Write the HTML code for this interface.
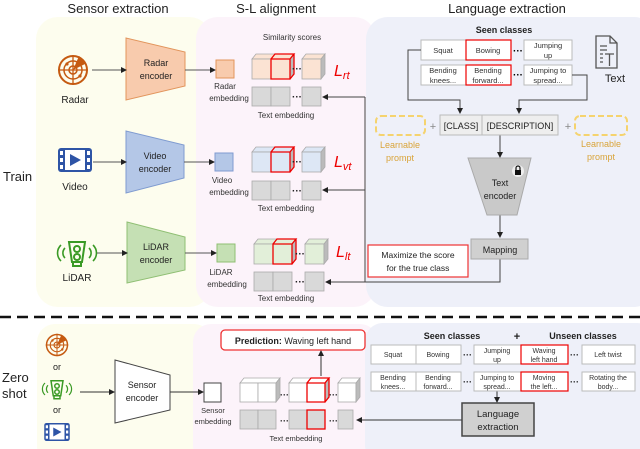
<!DOCTYPE html>
<html><head><meta charset="utf-8"><style>
html,body{margin:0;padding:0;background:#fff}
svg{display:block}
text{font-family:"Liberation Sans",sans-serif}
</style></head><body>
<svg width="640" height="449" viewBox="0 0 640 449" xmlns="http://www.w3.org/2000/svg">
<defs>
<marker id="ar" markerWidth="6" markerHeight="6" refX="5" refY="3" orient="auto" markerUnits="userSpaceOnUse"><path d="M0,0 L6,3 L0,6 z" fill="#222"/></marker>
<g id="radar">
<circle r="14" fill="none" stroke="#c55a11" stroke-width="2"/>
<circle r="9" fill="none" stroke="#c55a11" stroke-width="1.5"/>
<circle r="4" fill="none" stroke="#c55a11" stroke-width="1.5"/>
<path d="M-15,0 H15 M0,-15 V15" stroke="#c55a11" stroke-width="1.3"/>
<path d="M0,0 L6,-14 A14,14 0 0,1 12,-6 z" fill="#c55a11"/>
<circle cx="-6" cy="-6" r="1.6" fill="#c55a11"/><circle cx="7" cy="6" r="1.6" fill="#c55a11"/>
</g>
<g id="video">
<rect x="-17" y="-12" width="34" height="24" rx="3" fill="#2e54a6"/>
<rect x="-10" y="-10" width="20" height="20" fill="#fff"/>
<path d="M-5,-6 L6,0 L-5,6 z" fill="#2e54a6"/>
<rect x="-15" y="-9" width="3" height="4" fill="#fff"/><rect x="-15" y="-2" width="3" height="4" fill="#fff"/><rect x="-15" y="5" width="3" height="4" fill="#fff"/>
<rect x="12" y="-9" width="3" height="4" fill="#fff"/><rect x="12" y="-2" width="3" height="4" fill="#fff"/><rect x="12" y="5" width="3" height="4" fill="#fff"/>
</g>
<g id="lidar" fill="none" stroke="#3a9a25" stroke-width="2">
<path d="M-8,-11 H8 L5,9 H-5 z"/><rect x="-4" y="9" width="8" height="4"/>
<circle cx="0" cy="-4" r="3"/><circle cx="0" cy="4" r="3"/>
<path d="M-12,-5 A7,7 0 0,0 -12,5 M-16,-8 A11,11 0 0,0 -16,8 M12,-5 A7,7 0 0,1 12,5 M16,-8 A11,11 0 0,1 16,8" stroke-width="1.6"/>
</g>
</defs>

<!-- panels top -->
<rect x="36" y="17" width="175" height="290" rx="22" fill="#fdfdee"/>
<rect x="196" y="17" width="180" height="290" rx="22" fill="#fcf3fa"/>
<rect x="366" y="17" width="290" height="290" rx="22" fill="#eef0f9"/>
<text x="118" y="13" font-size="13" text-anchor="middle" fill="#222">Sensor extraction</text>
<text x="276" y="13" font-size="13" text-anchor="middle" fill="#222">S-L alignment</text>
<text x="507" y="13" font-size="13" text-anchor="middle" fill="#222">Language extraction</text>
<text x="3" y="181" font-size="13" fill="#222">Train</text>

<!-- icons -->
<use href="#radar" x="73" y="70"/>
<text x="75" y="103" font-size="10" text-anchor="middle" fill="#222">Radar</text>
<use href="#video" x="75" y="160"/>
<text x="75" y="190" font-size="10" text-anchor="middle" fill="#222">Video</text>
<use href="#lidar" x="77" y="253"/>
<text x="77" y="281" font-size="10" text-anchor="middle" fill="#222">LiDAR</text>

<!-- encoders -->
<g font-size="9" text-anchor="middle" fill="#222">
<path d="M126,38 L185,52 L185,86 L126,100 z" fill="#f8cbad" stroke="#e2955c"/>
<text x="156" y="66">Radar</text><text x="156" y="79">encoder</text>
<path d="M126,131 L184,145 L184,178 L126,193 z" fill="#b4c7e7" stroke="#7f9bd0"/>
<text x="155" y="159">Video</text><text x="155" y="172">encoder</text>
<path d="M127,222 L185,237 L185,270 L127,283 z" fill="#c5e0b4" stroke="#8fbf73"/>
<text x="156" y="250">LiDAR</text><text x="156" y="263">encoder</text>
</g>
<g stroke="#555" stroke-width="1" marker-end="url(#ar)">
<line x1="92" y1="70" x2="126" y2="70"/>
<line x1="93" y1="162" x2="126" y2="162"/>
<line x1="97" y1="253" x2="127" y2="253"/>
<line x1="185" y1="70" x2="215" y2="70"/>
<line x1="184" y1="162" x2="214" y2="162"/>
<line x1="185" y1="253" x2="216" y2="253"/>
</g>
<!-- embeddings -->
<rect x="216" y="60" width="18" height="18" fill="#f8cbad" stroke="#e2955c"/>
<rect x="215" y="153" width="18" height="18" fill="#b4c7e7" stroke="#7f9bd0"/>
<rect x="217" y="244" width="18" height="18" fill="#c5e0b4" stroke="#8fbf73"/>
<g font-size="8" text-anchor="middle" fill="#333">
<text x="225" y="89">Radar</text><text x="229" y="101">embedding</text>
<text x="222" y="183">Video</text><text x="229" y="195">embedding</text>
<text x="221" y="275">LiDAR</text><text x="227" y="287">embedding</text>
<text x="292" y="40">Similarity scores</text>
<text x="286" y="118">Text embedding</text>
<text x="286" y="211">Text embedding</text>
<text x="286" y="301">Text embedding</text>
</g>

<!-- cube rows -->
<g stroke="#aaa" stroke-width="0.8">
 <!-- radar cubes -->
 <g fill="#fbe3d3">
 <path d="M252,59 l4,-5 h38 l-4,5 z"/><rect x="252" y="59" width="19" height="20"/><rect x="271" y="59" width="19" height="20"/><path d="M290,59 l4,-5 v20 l-4,5 z" fill="#bbb"/>
 <path d="M302,59 l4,-5 h19 l-4,5 z"/><rect x="302" y="59" width="19" height="20"/><path d="M321,59 l4,-5 v20 l-4,5 z" fill="#bbb"/>
 </g>
 <g fill="#dde7f5">
 <path d="M252,152 l4,-5 h38 l-4,5 z"/><rect x="252" y="152" width="19" height="20"/><rect x="271" y="152" width="19" height="20"/><path d="M290,152 l4,-5 v20 l-4,5 z" fill="#bbb"/>
 <path d="M302,152 l4,-5 h19 l-4,5 z"/><rect x="302" y="152" width="19" height="20"/><path d="M321,152 l4,-5 v20 l-4,5 z" fill="#bbb"/>
 </g>
 <g fill="#e2efd9">
 <path d="M254,244 l4,-5 h38 l-4,5 z"/><rect x="254" y="244" width="19" height="20"/><rect x="273" y="244" width="19" height="20"/><path d="M292,244 l4,-5 v20 l-4,5 z" fill="#bbb"/>
 <path d="M305,244 l4,-5 h19 l-4,5 z"/><rect x="305" y="244" width="19" height="20"/><path d="M324,244 l4,-5 v20 l-4,5 z" fill="#bbb"/>
 </g>
 <g fill="#d9d9d9">
 <rect x="252" y="87" width="19" height="19"/><rect x="271" y="87" width="19" height="19"/><rect x="302" y="87" width="19" height="19"/>
 <rect x="252" y="181" width="19" height="19"/><rect x="271" y="181" width="19" height="19"/><rect x="302" y="181" width="19" height="19"/>
 <rect x="254" y="272" width="19" height="19"/><rect x="273" y="272" width="19" height="19"/><rect x="305" y="272" width="19" height="19"/>
 </g>
</g>
<g fill="none" stroke="#e00" stroke-width="1.3">
<path d="M271,59 h19 v20 h-19 z M271,59 l4,-5 h19 l-4,5 M290,79 l4,-5 v-20"/>
<path d="M271,152 h19 v20 h-19 z M271,152 l4,-5 h19 l-4,5 M290,172 l4,-5 v-20"/>
<path d="M273,244 h19 v20 h-19 z M273,244 l4,-5 h19 l-4,5 M292,264 l4,-5 v-20"/>
</g>
<g font-size="10" font-weight="bold" fill="#222">
<text x="292" y="72">···</text><text x="292" y="100">···</text>
<text x="292" y="165">···</text><text x="292" y="194">···</text>
<text x="295" y="257">···</text><text x="295" y="285">···</text>
</g>
<g font-family="Liberation Serif" font-style="italic" fill="#e00" font-size="16">
<text x="334" y="76">L<tspan font-size="11" dy="3">rt</tspan></text>
<text x="334" y="167">L<tspan font-size="11" dy="3">vt</tspan></text>
<text x="336" y="257">L<tspan font-size="11" dy="3">lt</tspan></text>
</g>

<!-- language extraction top -->
<text x="504" y="33" font-size="9" font-weight="bold" text-anchor="middle" fill="#222">Seen classes</text>
<g fill="#fff" stroke="#bbb">
<rect x="421" y="40" width="45" height="20"/><rect x="466" y="40" width="45" height="20"/><rect x="524" y="40" width="48" height="20"/>
<rect x="421" y="65" width="45" height="20"/><rect x="466" y="65" width="45" height="20"/><rect x="524" y="65" width="48" height="20"/>
</g>
<rect x="466" y="40" width="45" height="20" fill="none" stroke="#e00" stroke-width="1.2"/>
<rect x="466" y="65" width="45" height="20" fill="none" stroke="#e00" stroke-width="1.2"/>
<g font-size="7.5" text-anchor="middle" fill="#333">
<text x="443" y="53">Squat</text><text x="488" y="53">Bowing</text><text x="548" y="48">Jumping</text><text x="548" y="58">up</text>
<text x="443" y="73">Bending</text><text x="443" y="83">knees...</text><text x="488" y="73">Bending</text><text x="488" y="83">forward...</text>
<text x="548" y="73">Jumping to</text><text x="548" y="83">spread...</text>
</g>
<text x="513" y="54" font-size="10" font-weight="bold">···</text>
<text x="513" y="78" font-size="10" font-weight="bold">···</text>
<!-- text icon -->
<g fill="none" stroke="#555" stroke-width="1.3">
<path d="M596,36 h14 l7,7 v25 h-21 z M610,36 v7 h7"/>
<path d="M600,46 h7 M600,50 h7 M600,54 h3 M600,58 h3 M600,62 h3 M605,54 h9 M609.5,54 v12"/>
</g>
<text x="615" y="82" font-size="11" text-anchor="middle" fill="#222">Text</text>
<g stroke="#444" fill="none" stroke-width="1">
<path d="M421,50 H408 V100 H460 V113" marker-end="url(#ar)"/>
<path d="M572,75 H587 V100 H519 V113" marker-end="url(#ar)"/>
<path d="M500,135 V157" marker-end="url(#ar)"/>
<path d="M500,215 V237" marker-end="url(#ar)"/>
<path d="M500,259 V282 H365 V97"/>
<path d="M365,97 H323" marker-end="url(#ar)"/>
<path d="M365,190 H323" marker-end="url(#ar)"/>
<path d="M365,282 H326" marker-end="url(#ar)"/>
</g>
<rect x="440" y="115" width="118" height="20" fill="#eee" stroke="#bbb"/>
<line x1="482" y1="115" x2="482" y2="135" stroke="#bbb"/>
<text x="461" y="129" font-size="9" text-anchor="middle" fill="#222">[CLASS]</text>
<text x="520" y="129" font-size="9" text-anchor="middle" fill="#222">[DESCRIPTION]</text>
<text x="433" y="130" font-size="11" text-anchor="middle" fill="#888">+</text>
<text x="568" y="130" font-size="11" text-anchor="middle" fill="#888">+</text>
<rect x="376" y="116" width="49" height="19" rx="5" fill="#eef0f9" stroke="#f5d36e" stroke-width="2" stroke-dasharray="6,3"/>
<rect x="575" y="116" width="52" height="19" rx="5" fill="#eef0f9" stroke="#f5d36e" stroke-width="2" stroke-dasharray="6,3"/>
<g font-size="9" text-anchor="middle" fill="#d9a43a">
<text x="400" y="148">Learnable</text><text x="400" y="161">prompt</text>
<text x="601" y="147">Learnable</text><text x="601" y="160">prompt</text>
</g>
<path d="M468,158 L531,158 L517,215 L487,215 z" fill="#c9c9c9" stroke="#aaa"/>
<circle cx="518" cy="171" r="6" fill="#eee"/>
<rect x="515" y="170" width="6" height="5" fill="#111"/><path d="M516,170 v-2 a2,2 0 0,1 4,0 v2" stroke="#111" fill="none" stroke-width="1.2"/>
<text x="500" y="186" font-size="9" text-anchor="middle" fill="#222">Text</text>
<text x="500" y="199" font-size="9" text-anchor="middle" fill="#222">encoder</text>
<rect x="471" y="239" width="57" height="20" fill="#d0d0d0" stroke="#aaa"/>
<text x="500" y="253" font-size="9" text-anchor="middle" fill="#222">Mapping</text>
<rect x="368" y="245" width="100" height="32" fill="#fff" stroke="#e33" stroke-width="1.2"/>
<text x="418" y="258" font-size="8.5" text-anchor="middle" fill="#222">Maximize the score</text>
<text x="418" y="271" font-size="8.5" text-anchor="middle" fill="#222">for the true class</text>

<!-- dashed divider -->
<line x1="0" y1="317" x2="640" y2="317" stroke="#111" stroke-width="2.5" stroke-dasharray="11,6"/>

<!-- bottom panels -->
<rect x="37" y="324" width="175" height="140" rx="18" fill="#fdfdee"/>
<rect x="193" y="324" width="185" height="140" rx="18" fill="#fcf3fa"/>
<rect x="365" y="323" width="290" height="140" rx="18" fill="#eef0f9"/>
<text x="2" y="382" font-size="13" fill="#222">Zero</text>
<text x="2" y="398" font-size="13" fill="#222">shot</text>
<use href="#radar" x="57" y="345" transform="translate(57,345) scale(0.75) translate(-57,-345)"/>
<text x="57" y="370" font-size="9" text-anchor="middle" fill="#222">or</text>
<use href="#lidar" x="57" y="389" transform="translate(57,389) scale(0.75) translate(-57,-389)"/>
<text x="57" y="413" font-size="9" text-anchor="middle" fill="#222">or</text>
<use href="#video" x="57" y="432" transform="translate(57,432) scale(0.75) translate(-57,-432)"/>
<path d="M115,360 L170,375 L170,410 L115,423 z" fill="#fff" stroke="#444"/>
<text x="142" y="388" font-size="9" text-anchor="middle" fill="#222">Sensor</text>
<text x="142" y="401" font-size="9" text-anchor="middle" fill="#222">encoder</text>
<g stroke="#333" marker-end="url(#ar)">
<line x1="80" y1="392" x2="114" y2="392"/>
<line x1="170" y1="392" x2="203" y2="392"/>
<line x1="321" y1="376" x2="321" y2="351"/>
<line x1="462" y1="420" x2="357" y2="420"/>
<line x1="497" y1="391" x2="497" y2="402"/>
</g>
<rect x="204" y="383" width="17" height="19" fill="#fff" stroke="#444"/>
<text x="213" y="413" font-size="7.5" text-anchor="middle" fill="#333">Sensor</text>
<text x="213" y="424" font-size="7.5" text-anchor="middle" fill="#333">embedding</text>
<g stroke="#aaa" stroke-width="0.8">
<g fill="#fff">
<path d="M240,383 l4,-5 h36 l-4,5 z"/><rect x="240" y="383" width="18" height="19"/><rect x="258" y="383" width="18" height="19"/><path d="M276,383 l4,-5 v19 l-4,5 z" fill="#bbb"/>
<path d="M289,383 l4,-5 h36 l-4,5 z"/><rect x="289" y="383" width="18" height="19"/><rect x="307" y="383" width="18" height="19"/><path d="M325,383 l4,-5 v19 l-4,5 z" fill="#bbb"/>
<path d="M338,383 l4,-5 h18 l-4,5 z"/><rect x="338" y="383" width="18" height="19"/><path d="M356,383 l4,-5 v19 l-4,5 z" fill="#bbb"/>
</g>
<g fill="#d9d9d9">
<rect x="240" y="410" width="18" height="19"/><rect x="258" y="410" width="18" height="19"/>
<rect x="289" y="410" width="18" height="19"/><rect x="307" y="410" width="18" height="19"/>
<rect x="338" y="410" width="15" height="19"/>
</g>
</g>
<path d="M307,383 h18 v19 h-18 z M307,383 l4,-5 h18 l-4,5 M325,402 l4,-5 v-19" fill="none" stroke="#e00" stroke-width="1.3"/>
<rect x="307" y="410" width="18" height="19" fill="none" stroke="#e00" stroke-width="1.3"/>
<g font-size="9" font-weight="bold" fill="#222">
<text x="280" y="398">···</text><text x="329" y="398">···</text>
<text x="280" y="424">···</text><text x="329" y="424">···</text>
</g>
<text x="296" y="441" font-size="7.5" text-anchor="middle" fill="#333">Text embedding</text>
<rect x="221" y="330" width="144" height="20" rx="4" fill="#fff" stroke="#e33" stroke-width="1.3"/>
<text x="293" y="344" font-size="9" text-anchor="middle" fill="#222"><tspan font-weight="bold">Prediction:</tspan> Waving left hand</text>

<text x="452" y="339" font-size="9" font-weight="bold" text-anchor="middle" fill="#222">Seen classes</text>
<text x="517" y="340" font-size="11" font-weight="bold" text-anchor="middle" fill="#222">+</text>
<text x="583" y="339" font-size="9" font-weight="bold" text-anchor="middle" fill="#222">Unseen classes</text>
<g fill="#fff" stroke="#bbb">
<rect x="371" y="345" width="45" height="19"/><rect x="416" y="345" width="45" height="19"/><rect x="474" y="345" width="47" height="19"/><rect x="521" y="345" width="47" height="19"/><rect x="582" y="345" width="53" height="19"/>
<rect x="371" y="372" width="45" height="19"/><rect x="416" y="372" width="45" height="19"/><rect x="474" y="372" width="47" height="19"/><rect x="521" y="372" width="47" height="19"/><rect x="582" y="372" width="53" height="19"/>
</g>
<rect x="521" y="345" width="47" height="19" fill="none" stroke="#e00" stroke-width="1.2"/>
<rect x="521" y="372" width="47" height="19" fill="none" stroke="#e00" stroke-width="1.2"/>
<g font-size="7" text-anchor="middle" fill="#333">
<text x="393" y="357">Squat</text><text x="438" y="357">Bowing</text>
<text x="497" y="353">Jumping</text><text x="497" y="362">up</text>
<text x="544" y="353">Waving</text><text x="544" y="362">left hand</text>
<text x="608" y="357">Left twist</text>
<text x="393" y="380">Bending</text><text x="393" y="389">knees...</text>
<text x="438" y="380">Bending</text><text x="438" y="389">forward...</text>
<text x="497" y="380">Jumping to</text><text x="497" y="389">spread...</text>
<text x="544" y="380">Moving</text><text x="544" y="389">the left...</text>
<text x="608" y="380">Rotating the</text><text x="608" y="389">body...</text>
</g>
<g font-size="9" font-weight="bold" fill="#222">
<text x="463" y="358">···</text><text x="570" y="358">···</text>
<text x="463" y="385">···</text><text x="570" y="385">···</text>
</g>
<rect x="462" y="403" width="72" height="33" fill="#d0d0d0" stroke="#444" stroke-width="1.5"/>
<text x="498" y="417" font-size="9.5" text-anchor="middle" fill="#222">Language</text>
<text x="498" y="430" font-size="9.5" text-anchor="middle" fill="#222">extraction</text>
</svg>
</body></html>
